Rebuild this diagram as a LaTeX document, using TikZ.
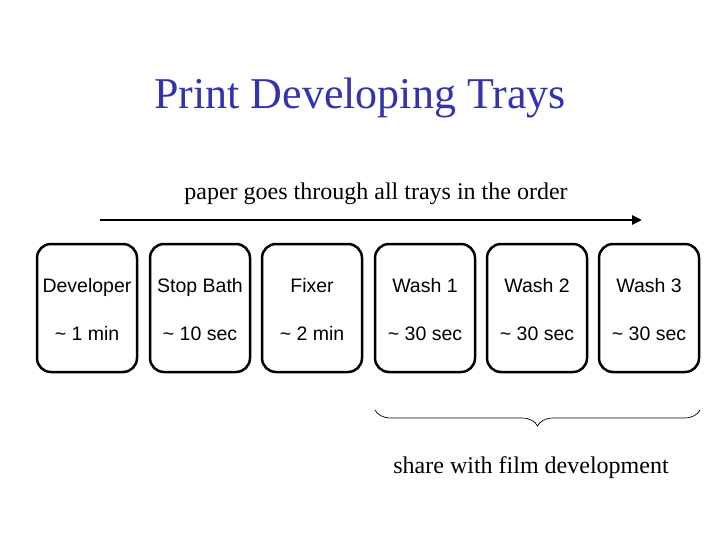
\documentclass[tikz,border=0pt]{standalone}
\usepackage{fontspec}
\setmainfont{Liberation Serif}
\newfontfamily\boxfont{Liberation Sans}
\usetikzlibrary{decorations.pathreplacing,arrows.meta}
\begin{document}
\begin{tikzpicture}[x=1pt,y=-1pt,
  tray/.style={draw,line width=2.5pt,rounded corners=14pt,minimum width=100pt,minimum height=128pt,inner sep=0pt},
  lbl/.style={font=\boxfont\fontsize{19.5}{22}\selectfont,inner sep=0pt,anchor=base}]
\useasboundingbox (0,0) rectangle (720,540);
\node[font=\fontsize{44}{50}\selectfont] (title) at (360,98) {\color[HTML]{3333B0}Print Developing Trays};
\node[font=\fontsize{24}{28}\selectfont] (sub) at (376,194) {paper goes through all trays in the order};
\coordinate (a1) at (100,220);
\coordinate (a2) at (642,220);
\draw[line width=2.8pt,-{Triangle[length=10pt,width=9pt]}] (a1) -- (a2);
\foreach \i/\x/\n/\t in {1/87/Developer/{\textasciitilde\ 1 min},2/200/Stop Bath/{\textasciitilde\ 10 sec},3/312/Fixer/{\textasciitilde\ 2 min},4/425/Wash 1/{\textasciitilde\ 30 sec},5/537/Wash 2/{\textasciitilde\ 30 sec},6/649/Wash 3/{\textasciitilde\ 30 sec}}{
  \node[tray] (b\i) at (\x,308) {};
  \node[lbl] (n\i) at (\x,292) {\n};
  \node[lbl] (t\i) at (\x,340) {\t};
}
\coordinate (c1) at (375,410);
\coordinate (c2) at (700,410);
\draw[line width=0.7pt,decorate,decoration={brace,mirror,amplitude=16pt}] (c1) -- (c2);
\node[font=\fontsize{24}{28}\selectfont] (share) at (531,468) {share with film development};
\end{tikzpicture}
\end{document}
